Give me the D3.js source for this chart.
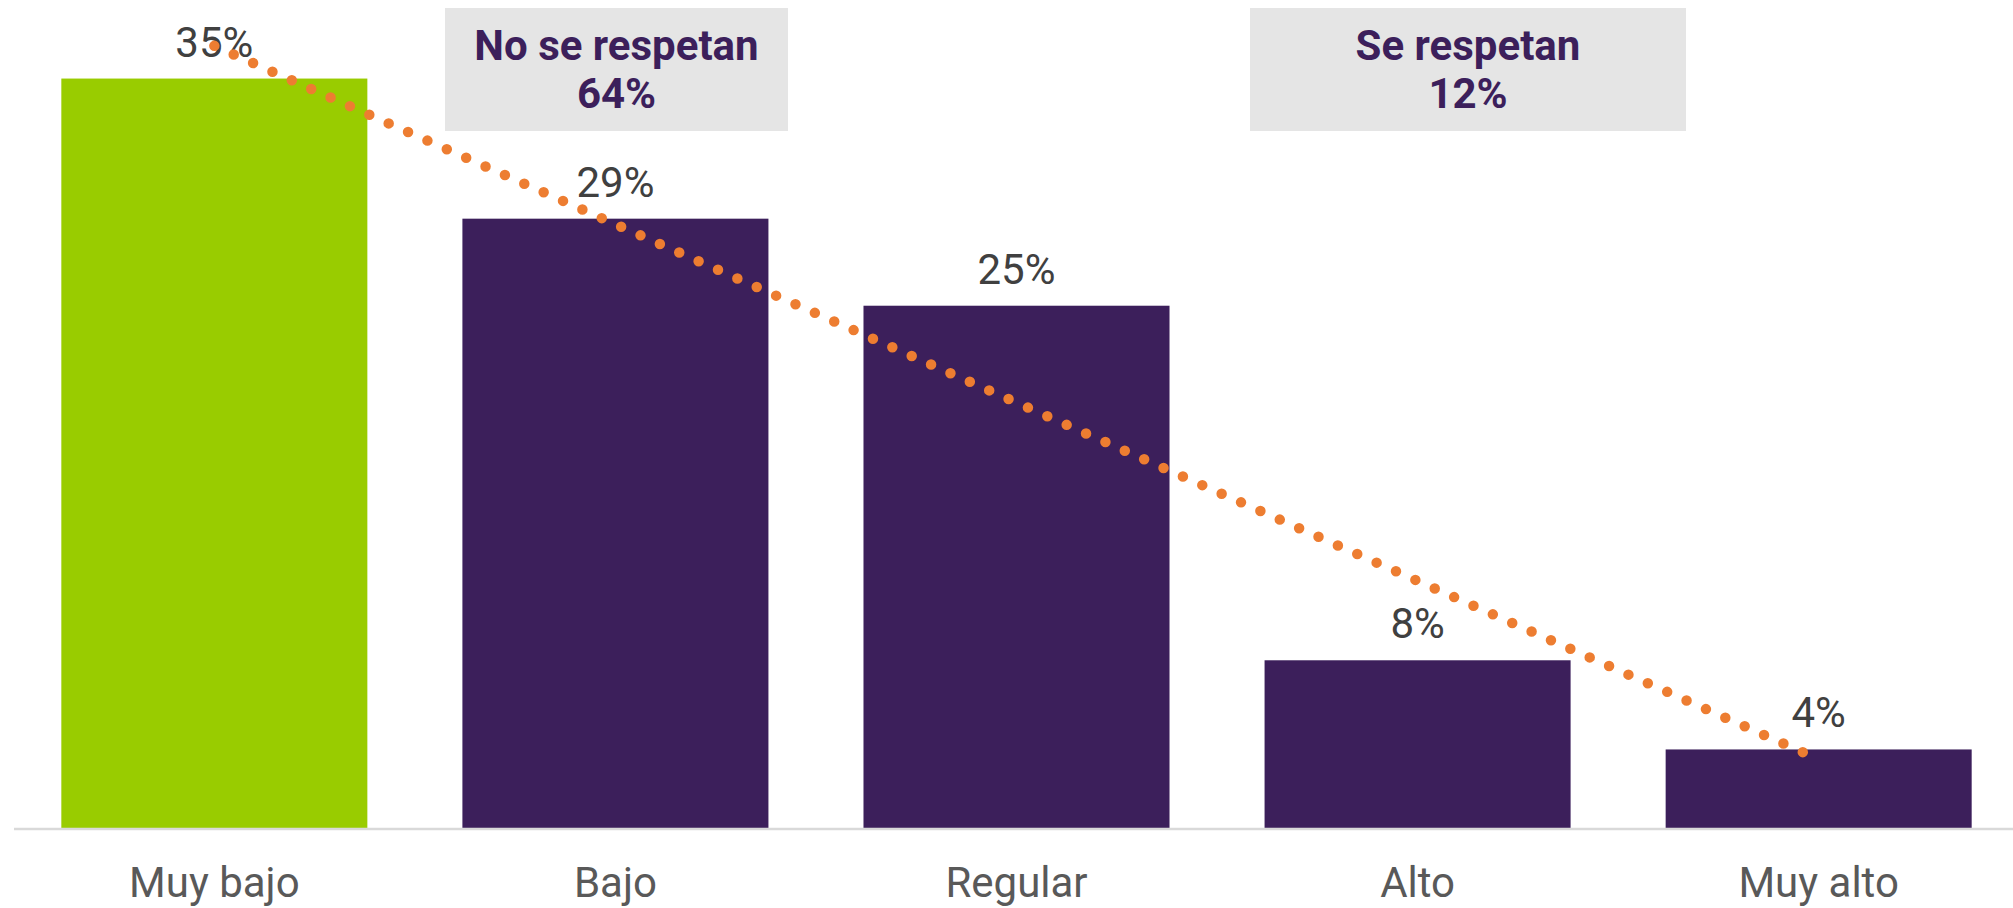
<!DOCTYPE html>
<html>
<head>
<meta charset="utf-8">
<script src="https://cdn.jsdelivr.net/npm/d3@7"></script>
<style>
  html, body { margin: 0; padding: 0; background: #fff; }
  svg { display: block; font-family: Roboto, sans-serif; }
</style>
</head>
<body>
<svg id="chart" width="2013" height="908"></svg>
<script>
// data
const categories = ["Muy bajo", "Bajo", "Regular", "Alto", "Muy alto"];
const values = [35.3, 28.7, 24.6, 7.9, 3.7];
const barColors = ["#99cc00", "#3c1f5b", "#3c1f5b", "#3c1f5b", "#3c1f5b"];
const groupLabels = ["No se respetan", "Se respetan"];
const groupValues = [64, 12];

const W = 2013, H = 908;
const baseY = 828;

const svg = d3.select("#chart");

const x = d3.scaleBand()
  .domain(categories)
  .range([14, 2019])
  .paddingInner(0.237)
  .paddingOuter(0.118);

const y = d3.scaleLinear()
  .domain([0, 39])
  .range([baseY, 0]);

// bars
svg.append("g")
  .selectAll("rect")
  .data(values)
  .join("rect")
  .attr("x", (d, i) => x(categories[i]))
  .attr("y", d => y(d))
  .attr("width", x.bandwidth())
  .attr("height", d => y(0) - y(d))
  .attr("fill", (d, i) => barColors[i]);

// x axis (light baseline + category labels)
const xAxis = svg.append("g")
  .attr("transform", `translate(0,${baseY + 1})`)
  .call(d3.axisBottom(x).tickSize(0).tickPadding(38));
xAxis.select(".domain").remove();
xAxis.append("line")
  .attr("x1", 14).attr("x2", W)
  .attr("stroke", "#d9d9d9").attr("stroke-width", 2.5);
xAxis.selectAll(".tick text")
  .attr("font-size", 42)
  .attr("font-family", "Roboto, sans-serif")
  .attr("fill", "#595959");

// linear trendline through bar centres
const xi = d3.range(values.length);
const mx = d3.mean(xi), my = d3.mean(values);
const slope = d3.sum(xi, i => (i - mx) * (values[i] - my)) / d3.sum(xi, i => (i - mx) ** 2);
const icpt = my - slope * mx;
const cx = i => x(categories[i]) + x.bandwidth() / 2;
const trend = [0, values.length - 1].map(i => [cx(i), y(icpt + slope * i)]);

// value labels
svg.append("g")
  .selectAll("text")
  .data(values)
  .join("text")
  .attr("x", (d, i) => cx(i))
  .attr("y", d => y(d) - 22)
  .attr("text-anchor", "middle")
  .attr("font-size", 42)
  .attr("fill", "#404040")
  .text(d => Math.round(d) + "%");

svg.append("path")
  .attr("d", d3.line()(trend))
  .attr("fill", "none")
  .attr("stroke", "#ed7d31")
  .attr("stroke-width", 10.5)
  .attr("stroke-linecap", "round")
  .attr("stroke-dasharray", "0 21.2");

// group boxes
const boxX = [[445, 788], [1250, 1686]];
const box = svg.append("g")
  .selectAll("g")
  .data(groupLabels)
  .join("g");
box.append("rect")
  .attr("x", (d, i) => boxX[i][0])
  .attr("y", 8)
  .attr("width", (d, i) => boxX[i][1] - boxX[i][0])
  .attr("height", 123)
  .attr("fill", "#e5e5e5");
box.append("text")
  .attr("x", (d, i) => (boxX[i][0] + boxX[i][1]) / 2)
  .attr("y", 60)
  .attr("text-anchor", "middle")
  .attr("font-size", 42)
  .attr("font-weight", "bold")
  .attr("fill", "#3c1f5b")
  .text(d => d);
box.append("text")
  .attr("x", (d, i) => (boxX[i][0] + boxX[i][1]) / 2)
  .attr("y", 108)
  .attr("text-anchor", "middle")
  .attr("font-size", 42)
  .attr("font-weight", "bold")
  .attr("fill", "#3c1f5b")
  .text((d, i) => groupValues[i] + "%");
</script>
</body>
</html>
